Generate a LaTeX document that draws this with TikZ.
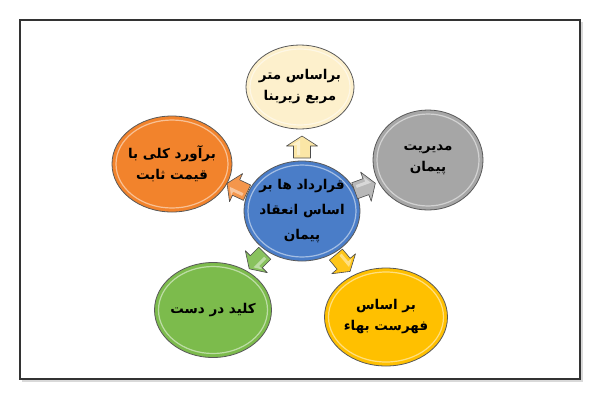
\documentclass[tikz,border=0pt]{standalone}
\usepackage{fontspec}
\newfontfamily\fa[Script=Arabic]{DejaVu Sans}
\TeXXeTstate=1
\usetikzlibrary{shapes.geometric}
\definecolor{cTop}{HTML}{FDF0CC}
\definecolor{cTopA}{HTML}{FBE6A6}
\definecolor{cBlue}{HTML}{4A7DC8}
\definecolor{cOrange}{HTML}{F2832C}
\definecolor{cGray}{HTML}{A6A6A6}
\definecolor{cGreen}{HTML}{7CBB4C}
\definecolor{cYellow}{HTML}{FFC000}
\newcommand\rl[1]{\beginR #1\endR}
% block arrow: #1 = position, #2 = angle, #3 = fill colour
\newcommand\blockarrow[3]{%
  \draw[shift={#1}, rotate=#2, fill=#3, draw=black!70, line width=0.6pt, line join=round]
    (-11,-8.5) -- (1,-8.5) -- (1,-15.5) -- (11,0) -- (1,15.5) -- (1,8.5) -- (-11,8.5) -- cycle;
  \fill[shift={#1}, rotate=#2, white, opacity=0.45]
    (-8,-5) -- (2,-5) -- (2,-10) -- (7,-2) -- (-8,-2) -- cycle;}
\begin{document}
\begin{tikzpicture}[x=1pt,y=-1pt,
  bub/.style n args={2}{ellipse, draw=black!65, line width=0.8pt, inner sep=0pt,
    minimum width=#1pt, minimum height=#2pt,
    path picture={\draw[white, opacity=0.5, line width=1.2pt]
      (path picture bounding box.center) ellipse [x radius=#1/2-4, y radius=#2/2-4];}},
  txt/.style={align=center, inner sep=0pt, font=\fa\bfseries\fontsize{13.5}{21}\selectfont}]
\useasboundingbox (0,0) rectangle (600,400);
\draw[line width=2pt, black!15] (23,23) rectangle (582,381);
\draw[line width=2pt, black!80, fill=white] (20,20) rectangle (580,379);

\node[bub={108}{84}, fill=cTop] (top) at (300,87) {};
\node[txt] (topt) at (top) {\rl{براساس متر}\\\rl{مربع زیربنا}};
\node[bub={116}{100}, fill=cBlue] (mid) at (302,211) {};
\node[txt, font=\fa\bfseries\fontsize{13.5}{25}\selectfont] (midt) at (mid) {\rl{قرارداد ها بر}\\\rl{اساس انعقاد}\\\rl{پیمان}};
\node[bub={120}{96}, fill=cOrange] (left) at (172,164) {};
\node[txt] (leftt) at (left) {\rl{برآورد کلی با}\\\rl{قیمت ثابت}};
\node[bub={110}{100}, fill=cGray] (right) at (428,160) {};
\node[txt] (rightt) at (right) {\rl{مدیریت}\\\rl{پیمان}};
\node[bub={117}{95}, fill=cGreen] (bl) at (213,310) {};
\node[txt] (blt) at (bl) {\rl{کلید در دست}};
\node[bub={123}{98}, fill=cYellow] (br) at (386,317) {};
\node[txt] (brt) at (br) {\rl{بر اساس}\\\rl{فهرست بهاء}};

\blockarrow{(302,147)}{90}{cTopA}
\blockarrow{(237,188)}{155}{cOrange!85!white}
\blockarrow{(365,187)}{20}{cGray!80!white}
\blockarrow{(257,261)}{-135}{cGreen!90!white}
\blockarrow{(343,263)}{-50}{cYellow!90!white}
\end{tikzpicture}
\end{document}
